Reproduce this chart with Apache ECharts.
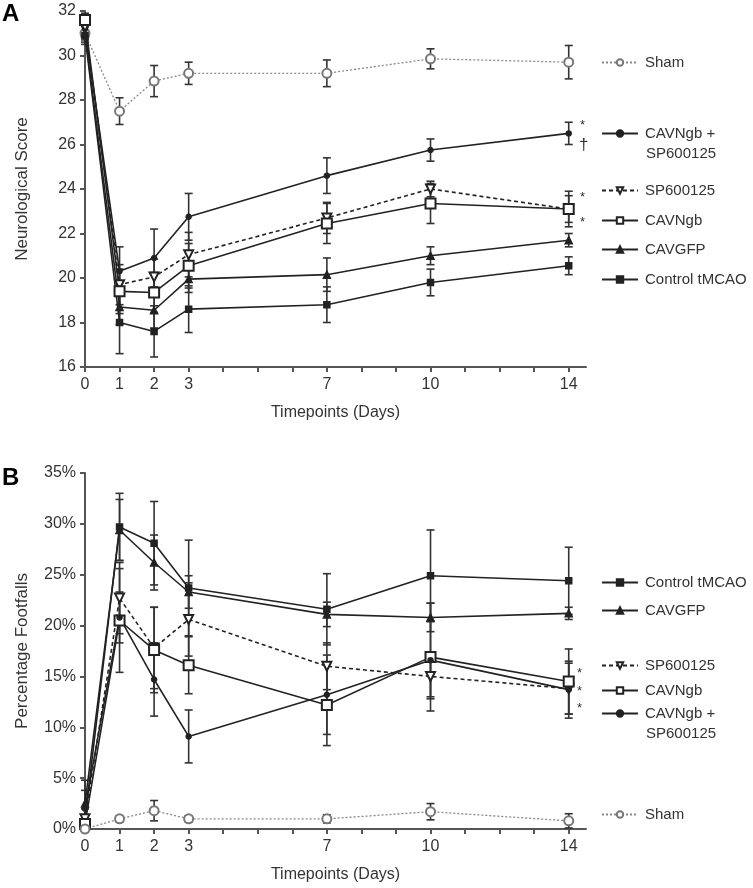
<!DOCTYPE html>
<html>
<head>
<meta charset="utf-8">
<script src="https://cdn.jsdelivr.net/npm/echarts@6/dist/echarts.min.js"></script>
<style>
  html, body { margin: 0; padding: 0; background: #fff; }
  #chart { width: 753px; height: 888px; }
</style>
</head>
<body>
<div id="chart"></div>
<script>
// timepoints (days) and which ones get a label
var days = [0, 1, 2, 3, 7, 10, 14];
var labelDays = [0, 1, 2, 3, 7, 10, 14];

// panel A - neurological score (mean / sem)
var shamA = [31.0, 27.5, 28.85, 29.2, 29.2, 29.85, 29.7];
var shamAErr = [0.3, 0.6, 0.7, 0.5, 0.6, 0.45, 0.75];
var comboA = [31.2, 20.3, 20.9, 22.75, 24.6, 25.75, 26.5];
var comboAErr = [0.4, 1.1, 1.3, 1.05, 0.8, 0.5, 0.5];
var spA = [31.3, 19.7, 20.05, 21.05, 22.7, 24.0, 23.1];
var spAErr = [0.4, 0.9, 0.8, 1.0, 0.7, 0.35, 0.8];
var ngbA = [31.6, 19.4, 19.35, 20.55, 22.45, 23.35, 23.1];
var ngbAErr = [0.3, 1.0, 0.9, 1.0, 0.9, 0.9, 0.6];
var gfpA = [31.0, 18.7, 18.55, 19.95, 20.15, 21.0, 21.7];
var gfpAErr = [0.4, 0.8, 0.8, 0.6, 0.75, 0.4, 0.3];
var ctrlA = [30.9, 18.0, 17.6, 18.6, 18.8, 19.8, 20.55];
var ctrlAErr = [0.4, 1.4, 1.15, 1.05, 0.8, 0.6, 0.4];

// panel B - percentage footfalls
var ctrlB = [1.0, 29.7, 28.1, 23.7, 21.6, 24.9, 24.4];
var ctrlBErr = [1.0, 3.3, 4.1, 4.7, 3.5, 4.5, 3.3];
var gfpB = [2.5, 29.4, 26.2, 23.3, 21.1, 20.8, 21.2];
var gfpBErr = [2.3, 3.0, 2.7, 1.6, 1.2, 1.4, 0.6];
var spB = [1.0, 22.7, 17.8, 20.6, 16.0, 15.0, 13.8];
var spBErr = [1.0, 3.5, 4.0, 3.6, 2.3, 2.0, 2.5];
var ngbB = [0.5, 20.5, 17.6, 16.1, 12.2, 16.9, 14.5];
var ngbBErr = [0.5, 5.1, 4.2, 2.8, 4.0, 5.3, 3.2];
var comboB = [2.0, 20.8, 14.7, 9.1, 13.2, 16.6, 13.7];
var comboBErr = [1.8, 2.5, 3.6, 2.6, 3.9, 3.8, 2.8];
var shamB = [0, 1.0, 1.8, 1.0, 1.0, 1.7, 0.8];
var shamBErr = [0, 0.3, 1.0, 0.3, 0.4, 0.8, 0.7];

var FONT = '"Liberation Sans", Arial, sans-serif';
var INK = '#222';

var chart = echarts.init(document.getElementById('chart'));

function pairs(vals) {
  return days.map(function (d, i) { return [d, vals[i]]; });
}
function errData(vals, err) {
  return days.map(function (d, i) { return [d, vals[i] - err[i], vals[i] + err[i]]; });
}

function renderErr(params, api) {
  var x = api.value(0);
  var hi = api.coord([x, api.value(2)]);
  var lo = api.coord([x, api.value(1)]);
  var w = 4;
  var st = { stroke: '#333', lineWidth: 1.6 };
  return {
    type: 'group',
    children: [
      { type: 'line', shape: { x1: hi[0], y1: hi[1], x2: lo[0], y2: lo[1] }, style: st },
      { type: 'line', shape: { x1: hi[0] - w, y1: hi[1], x2: hi[0] + w, y2: hi[1] }, style: st },
      { type: 'line', shape: { x1: lo[0] - w, y1: lo[1], x2: lo[0] + w, y2: lo[1] }, style: st }
    ]
  };
}

// group styles
var groups = {
  'Sham': { symbol: 'emptyCircle', size: 9, color: '#777', line: { color: '#888', width: 1.3, type: [2, 2] } },
  'CAVNgb + SP600125': { symbol: 'circle', size: 5, color: INK, line: { color: INK, width: 1.6, type: 'solid' } },
  'SP600125': { symbol: 'emptyTriangle', size: 9, rotate: 180, color: INK, line: { color: INK, width: 1.6, type: [4, 3] } },
  'CAVNgb': { symbol: 'emptyRect', size: 10, color: INK, line: { color: INK, width: 1.6, type: 'solid' } },
  'CAVGFP': { symbol: 'triangle', size: 7, color: INK, line: { color: INK, width: 1.6, type: 'solid' } },
  'Control tMCAO': { symbol: 'rect', size: 6, color: INK, line: { color: INK, width: 1.6, type: 'solid' } }
};

function lineSeries(name, vals, idx) {
  var g = groups[name];
  return {
    name: name,
    type: 'line',
    xAxisIndex: idx,
    yAxisIndex: idx,
    data: pairs(vals),
    symbol: g.symbol,
    symbolSize: g.size,
    symbolRotate: g.rotate || 0,
    showAllSymbol: true,
    lineStyle: g.line,
    itemStyle: { color: g.color, borderColor: g.color, borderWidth: 1.5 },
    z: 3,
    animation: false
  };
}

function errSeries(vals, err, idx) {
  return {
    type: 'custom',
    xAxisIndex: idx,
    yAxisIndex: idx,
    data: errData(vals, err),
    renderItem: renderErr,
    encode: { x: 0, y: [1, 2] },
    z: 2,
    silent: true,
    animation: false
  };
}

var seriesA = [
  ['Sham', shamA, shamAErr],
  ['CAVNgb + SP600125', comboA, comboAErr],
  ['SP600125', spA, spAErr],
  ['CAVNgb', ngbA, ngbAErr],
  ['CAVGFP', gfpA, gfpAErr],
  ['Control tMCAO', ctrlA, ctrlAErr]
];
var seriesB = [
  ['Control tMCAO', ctrlB, ctrlBErr],
  ['CAVGFP', gfpB, gfpBErr],
  ['SP600125', spB, spBErr],
  ['CAVNgb', ngbB, ngbBErr],
  ['CAVNgb + SP600125', comboB, comboBErr],
  ['Sham', shamB, shamBErr]
];

var series = [];
seriesA.forEach(function (s) { series.push(errSeries(s[1], s[2], 0)); series.push(lineSeries(s[0], s[1], 0)); });
seriesB.forEach(function (s) { series.push(errSeries(s[1], s[2], 1)); series.push(lineSeries(s[0], s[1], 1)); });

// legend rows: name, center y
var legendA = [['Sham', 62], ['CAVNgb + SP600125', 133], ['SP600125', 190], ['CAVNgb', 220], ['CAVGFP', 249], ['Control tMCAO', 279]];
var legendB = [['Control tMCAO', 582], ['CAVGFP', 610], ['SP600125', 665], ['CAVNgb', 690], ['CAVNgb + SP600125', 713], ['Sham', 814]];

var legends = legendA.concat(legendB).map(function (l) {
  return {
    data: [l[0]],
    left: 601,
    top: l[1] - 7,
    padding: 0,
    itemWidth: 36,
    itemHeight: 8,
    selectedMode: false,
    formatter: function (n) { return n === 'CAVNgb + SP600125' ? 'CAVNgb +' : n; },
    textStyle: { fontFamily: FONT, fontSize: 15, color: '#333', padding: [0, 0, 0, 2] }
  };
});

function xAxisCfg(idx) {
  return {
    type: 'value',
    gridIndex: idx,
    min: 0,
    max: 14.5,
    interval: 1,
    splitLine: { show: false },
    axisLine: { onZero: false, lineStyle: { color: '#555', width: 2 } },
    axisTick: { length: 5, lineStyle: { color: '#555', width: 2 } },
    axisLabel: {
      fontFamily: FONT, fontSize: 16, color: '#333', margin: 10,
      showMaxLabel: false,
      formatter: function (v) { return labelDays.indexOf(v) >= 0 ? String(v) : ''; }
    },
    name: 'Timepoints (Days)',
    nameLocation: 'middle',
    nameGap: 38,
    nameTextStyle: { fontFamily: FONT, fontSize: 16, color: '#333' }
  };
}

function yAxisCfg(idx, min, max, step, name, fmt) {
  return {
    type: 'value',
    gridIndex: idx,
    min: min,
    max: max,
    interval: step,
    splitLine: { show: false },
    axisLine: { show: true, onZero: false, lineStyle: { color: '#555', width: 2 } },
    axisTick: { show: true, length: 5, lineStyle: { color: '#555', width: 2 } },
    axisLabel: { fontFamily: FONT, fontSize: 16, color: '#333', margin: 9, formatter: fmt },
    name: name,
    nameLocation: 'middle',
    nameRotate: 90,
    nameGap: 54,
    nameTextStyle: { fontFamily: FONT, fontSize: 17, color: '#333' }
  };
}

function txt(x, y, s, size, bold) {
  return {
    type: 'text', left: x, top: y,
    style: { text: s, fontFamily: FONT, fontSize: size, fontWeight: bold ? 'bold' : 'normal', fill: bold ? '#000' : '#333' }
  };
}

var option = {
  backgroundColor: '#fff',
  animation: false,
  grid: [
    { left: 85, top: 11, width: 501, height: 356 },
    { left: 85, top: 473, width: 501, height: 356 }
  ],
  xAxis: [xAxisCfg(0), xAxisCfg(1)],
  yAxis: [
    yAxisCfg(0, 16, 32, 2, 'Neurological Score', '{value}'),
    yAxisCfg(1, 0, 35, 5, 'Percentage Footfalls', '{value}%')
  ],
  legend: legends,
  graphic: [
    txt(2, 2, 'A', 24, true),
    txt(2, 466, 'B', 24, true),
    txt(646, 146, 'SP600125', 15),
    txt(646, 726, 'SP600125', 15),
    txt(580, 119, '*', 13),
    txt(579, 137, '\u2020', 17),
    txt(580, 191, '*', 13),
    txt(580, 216, '*', 13),
    txt(577, 667, '*', 13),
    txt(577, 685, '*', 13),
    txt(577, 702, '*', 13)
  ],
  series: series
};

chart.setOption(option);
</script>
</body>
</html>
